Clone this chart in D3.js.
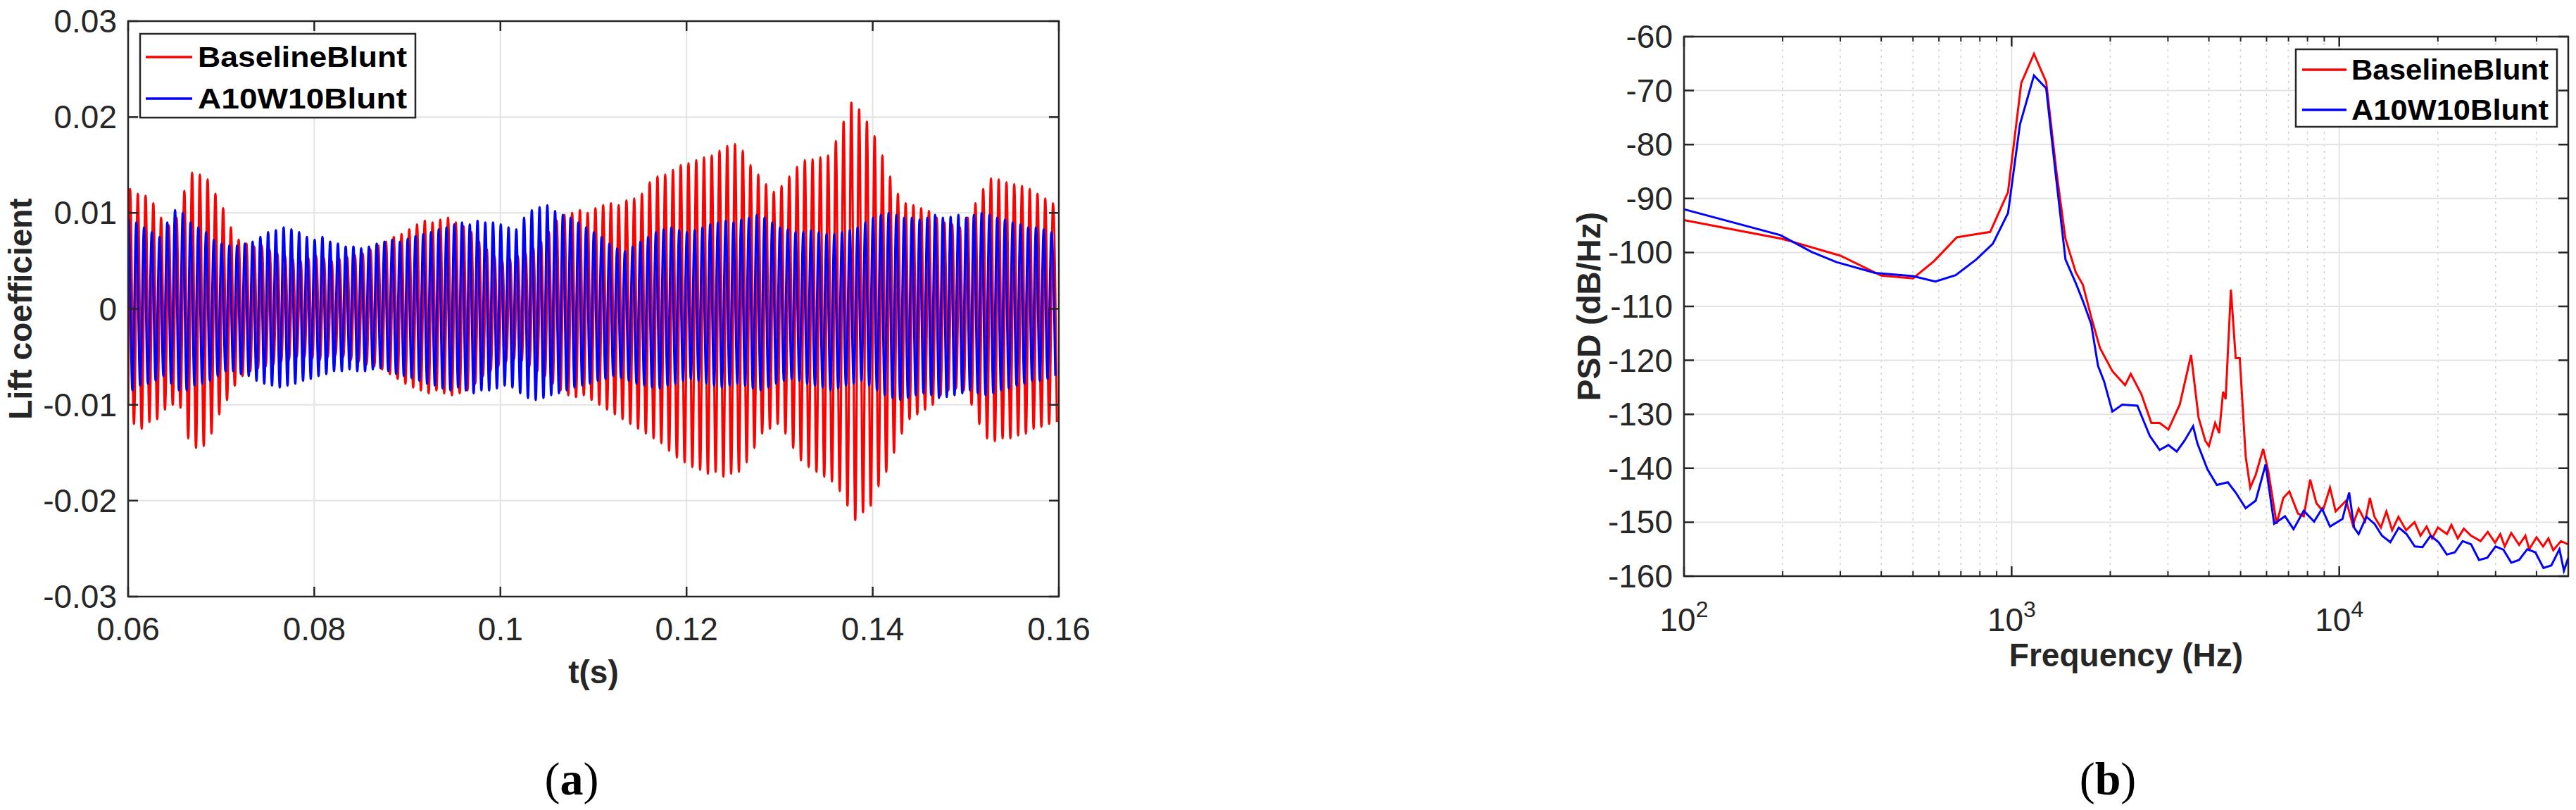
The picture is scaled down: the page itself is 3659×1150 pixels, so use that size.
<!DOCTYPE html>
<html><head><meta charset="utf-8">
<script src="https://cdn.jsdelivr.net/npm/d3@7"></script>
<style>body{margin:0;background:#fff}svg{display:block}</style>
</head><body>
<svg id="c" width="3659" height="1150"></svg>
<script>
// ---------- DATA ----------
const seriesNames = ["BaselineBlunt", "A10W10Blunt"];
const seriesColors = ["#ff0000", "#0000ff"];
const tStart = 0.06, tEnd = 0.16;
// per-cycle peaks (x1e-3), 120 cycles over 0.06..0.16 s
const redUpper = [12.5,12.0,11.8,11.0,9.5,8.7, 9.5,12.3,14.2,14.0,13.5,12.0, 10.5,8.5,7.2,6.8,6.5,6.6, 6.2,5.8,5.5,5.2,5.0,5.3, 5.5,5.3,5.0,5.2,5.4,5.6, 5.8,6.2,6.6,7.0,7.5,7.8, 8.3,8.8,9.2,9.0,9.3,9.5, 9.0,8.6,8.0,7.0,6.2,5.5, 5.0,5.2,5.5,5.8,6.3,7.0, 8.0,9.2,9.8,10.0,10.3,10.0, 10.5,10.8,11.0,10.8,11.3,11.5, 12.0,13.2,13.8,14.0,14.5,15.0, 15.2,15.5,15.8,16.0,16.5,17.0, 17.2,16.5,15.0,14.0,13.0,12.2, 12.8,13.8,14.8,15.5,15.6,15.8, 16.0,17.5,19.5,21.5,20.8,19.5, 18.0,16.0,13.8,12.0,11.0,10.8, 10.5,10.2,9.5,9.0,8.8,8.5, 9.5,11.0,12.5,13.6,13.5,13.2, 13.0,12.8,12.5,12.0,11.5,11.0];
const redLower = [-12.0,-12.5,-11.8,-11.5,-10.5,-10.0, -10.3,-13.5,-14.5,-14.3,-13.0,-11.0, -9.5,-8.0,-7.0,-6.5,-6.2,-6.0, -5.8,-5.5,-5.3,-5.0,-5.0,-5.2, -5.3,-5.0,-4.8,-5.0,-5.3,-5.5, -5.8,-6.0,-6.3,-6.8,-7.3,-7.8, -8.2,-8.5,-8.8,-8.5,-8.8,-9.0, -8.8,-8.5,-7.8,-7.0,-6.5,-6.0, -5.5,-5.3,-5.5,-6.0,-6.5,-7.0, -7.8,-8.5,-9.0,-9.2,-9.0,-9.5, -10.0,-10.5,-11.0,-11.5,-12.0,-12.5, -13.0,-13.5,-14.0,-14.8,-15.5,-16.0, -16.5,-16.8,-17.2,-17.0,-17.5,-17.2, -17.0,-16.0,-14.5,-13.0,-12.5,-12.0, -13.0,-14.5,-15.8,-16.5,-17.0,-17.5, -18.0,-19.0,-20.5,-22.0,-21.2,-20.5, -18.5,-17.0,-15.0,-13.0,-11.5,-11.0, -10.5,-10.0,-9.0,-8.5,-8.3,-8.5, -10.0,-12.0,-13.5,-13.8,-13.5,-13.5, -13.2,-13.0,-12.5,-12.3,-12.0,-11.8];
const blueUpper = [9.3,9.0,8.5,8.0,7.5,9.0, 10.3,10.0,9.0,8.5,8.0,7.2, 6.8,6.6,6.6,6.8,7.0,7.5, 8.0,8.2,8.5,8.3,8.0,7.5, 7.2,7.5,7.0,6.8,6.5,6.5, 6.3,6.5,6.8,7.0,7.2,7.0, 7.3,7.6,7.8,8.0,8.3,8.5, 8.8,9.0,8.8,9.2,9.0,9.0, 8.8,8.5,8.3,9.5,10.3,10.6, 10.8,10.2,9.8,9.5,9.0,8.5, 8.0,7.5,6.8,6.3,6.0,6.5, 7.0,7.5,8.0,8.3,8.5,8.2, 8.0,8.2,8.5,8.8,9.0,9.2, 9.0,9.3,9.5,9.8,9.5,9.0, 8.5,8.3,8.0,8.0,8.2,8.0, 7.8,7.8,8.0,8.2,8.5,9.0, 9.5,9.8,10.0,9.8,9.5,9.5, 9.3,9.5,9.8,9.5,9.6,9.8, 9.5,9.8,10.0,9.8,9.5,9.3, 9.0,8.8,8.5,8.5,8.3,8.0];
const blueLower = [-8.5,-8.0,-7.8,-7.5,-7.0,-7.8, -8.5,-8.5,-8.0,-7.8,-7.5,-7.0, -6.5,-6.5,-6.8,-7.0,-7.5,-7.8, -8.0,-8.2,-8.0,-7.8,-7.5,-7.3, -7.0,-6.8,-6.5,-6.5,-6.3,-6.5, -6.5,-6.3,-6.2,-6.5,-6.8,-7.0, -7.2,-7.5,-7.8,-8.0,-8.3,-8.5, -8.2,-8.5,-8.8,-8.5,-8.5,-8.3, -8.0,-8.2,-8.8,-9.3,-9.5,-9.3, -9.0,-8.8,-8.5,-8.2,-8.0,-7.8, -7.5,-7.3,-7.0,-7.2,-7.5,-7.8, -8.0,-8.2,-8.3,-8.0,-7.8,-7.5, -7.3,-7.5,-7.8,-8.0,-8.2,-8.0, -7.8,-8.0,-8.3,-8.5,-8.2,-7.8, -7.5,-7.3,-7.5,-7.8,-8.0,-8.2, -8.5,-8.3,-8.0,-7.8,-7.5,-8.0, -8.5,-9.0,-9.3,-9.5,-9.3,-9.0, -8.8,-9.0,-9.3,-9.2,-9.0,-8.8, -8.5,-8.8,-9.0,-8.8,-8.5,-8.3, -8.0,-7.8,-7.5,-7.5,-7.3,-7.0];
const leftXTicks = [0.06,0.08,0.1,0.12,0.14,0.16];
const leftYTicks = [-0.03,-0.02,-0.01,0,0.01,0.02,0.03];

const psdFreq = {
 red: [100,200,300,400,500,580,680,860,975,1070,1170,1275,1370,1460,1570,1650,1750,1860,2030,2220,2310,2490,2670,2830,3010,3260,3530,3720,3900,4000,4180,4300,4420,4500,4670,4830,4970,5180,5350,5560,5860,6080,6440,6750,7040,7480,7790,8150,8520,8910,9370,9750,10500,11000,11460,12000,12400,12810,13400,13930,14500,15160,16000,16980,17700,18480,19200,20000,21320,22000,23000,24000,25250,27000,28400,29900,31000,32000,33500,35400,37000,38000,40000,41900,43500,45000,47500,50000],
 blue: [100,197,245,292,383,500,585,675,780,876,975,1060,1170,1275,1360,1460,1570,1650,1750,1835,1915,2030,2175,2420,2640,2830,3010,3190,3370,3580,3690,3960,4230,4570,4830,5180,5560,5960,6330,6830,7250,7790,8380,8860,9370,10230,10720,11100,11460,12100,12810,13500,14320,15200,16050,17000,17960,19000,20100,21300,22520,23800,25250,26700,28300,30000,31700,33500,35400,37500,39700,42000,44400,47000,48500,50000]
};
const psdRed = [-94.0,-97.5,-100.6,-104.3,-104.8,-101.6,-97.2,-96.2,-88.8,-68.6,-63.2,-68.4,-85.0,-97.5,-103.7,-106.0,-112.0,-117.7,-122.0,-124.6,-122.5,-126.3,-131.6,-131.6,-132.8,-128.2,-119.0,-130.6,-134.9,-135.9,-131.6,-133.5,-125.8,-127.2,-106.9,-119.6,-119.6,-137.8,-143.6,-141.2,-136.4,-140.7,-150.3,-145.5,-144.3,-148.4,-148.9,-142.1,-146.5,-147.9,-143.6,-148.0,-146.0,-150.5,-147.5,-149.8,-145.5,-149.0,-151.0,-148.0,-151.5,-149.0,-151.5,-150.0,-152.5,-150.8,-153.0,-151.0,-152.2,-150.5,-153.0,-151.2,-152.5,-153.5,-151.8,-153.8,-152.2,-154.5,-152.0,-154.2,-152.5,-155.0,-152.8,-154.5,-153.0,-155.2,-153.5,-154.1];
const psdBlue = [-92.0,-96.8,-99.9,-101.8,-103.8,-104.4,-105.4,-104.2,-101.3,-98.4,-92.7,-76.3,-67.2,-69.6,-85.0,-101.3,-105.7,-109.0,-113.3,-121.0,-123.9,-129.5,-128.2,-128.4,-134.0,-136.6,-135.7,-136.9,-134.9,-132.2,-135.4,-140.2,-143.1,-142.6,-144.5,-147.4,-146.0,-139.3,-150.3,-148.9,-151.3,-147.9,-149.9,-147.5,-150.8,-149.4,-144.5,-151.0,-152.2,-149.0,-150.3,-152.5,-153.7,-151.0,-152.2,-154.5,-154.6,-152.5,-153.7,-156.0,-155.6,-153.5,-154.1,-157.0,-156.6,-154.5,-155.1,-157.5,-157.0,-155.0,-155.6,-158.5,-158.0,-155.0,-159.0,-156.6];
const rightXTicks = [100,1000,10000];
const rightYTicks = [-160,-150,-140,-130,-120,-110,-100,-90,-80,-70,-60];

// ---------- DRAW ----------
const svg = d3.select("#c");
const FONT = "'Liberation Sans', Arial, sans-serif";
const grid = "#e3e3e3";

function frame(g, x, y, W, H){
  g.append("rect").attr("x",x.range()[0]).attr("y",y.range()[1]).attr("width",W).attr("height",H)
   .attr("fill","none").attr("stroke","#262626").attr("stroke-width",2.5);
}

// ===== Left chart =====
const L = {x0:182, x1:1504, y0:30, y1:847};
const xL = d3.scaleLinear().domain([tStart,tEnd]).range([L.x0,L.x1]);
const yL = d3.scaleLinear().domain([-0.03,0.03]).range([L.y1,L.y0]);
const gL = svg.append("g");
gL.append("g").selectAll("line").data(leftXTicks).join("line")
  .attr("x1",d=>xL(d)).attr("x2",d=>xL(d)).attr("y1",L.y0).attr("y2",L.y1).attr("stroke",grid).attr("stroke-width",2);
gL.append("g").selectAll("line").data(leftYTicks).join("line")
  .attr("y1",d=>yL(d)).attr("y2",d=>yL(d)).attr("x1",L.x0).attr("x2",L.x1).attr("stroke",grid).attr("stroke-width",2);

function osc(upper, lower, phase){
  const n = upper.length, P = (tEnd-tStart)/n, pts=[];
  for(let k=0;k<n;k++){
    pts.push([tStart+(k+phase)*P, upper[k]*1e-3]);
    pts.push([tStart+(k+phase+0.5)*P, lower[k]*1e-3]);
  }
  return pts.filter(p=>p[0]>=tStart-1e-9 && p[0]<=tEnd+P);
}
const lineL = d3.line().x(d=>xL(d[0])).y(d=>yL(d[1])).curve(d3.curveMonotoneX);
svg.append("clipPath").attr("id","clipL").append("rect")
  .attr("x",L.x0).attr("y",L.y0).attr("width",L.x1-L.x0).attr("height",L.y1-L.y0);
const redPts = [[tStart,-0.010]].concat(osc(redUpper, redLower, 0.25));
const bluePts = [[tStart,0.009]].concat(osc(blueUpper, blueLower, 0.05));
gL.append("path").attr("d",lineL(redPts)).attr("fill","none").attr("stroke",seriesColors[0]).attr("stroke-width",3.2).attr("clip-path","url(#clipL)");
gL.append("path").attr("d",lineL(bluePts)).attr("fill","none").attr("stroke",seriesColors[1]).attr("stroke-width",3.2).attr("clip-path","url(#clipL)");

const tk = 14;
gL.append("g").selectAll("path").data(leftXTicks).join("path")
  .attr("d",d=>`M${xL(d)},${L.y1}v${-tk}M${xL(d)},${L.y0}v${tk}`).attr("stroke","#262626").attr("stroke-width",2.5);
gL.append("g").selectAll("path").data(leftYTicks).join("path")
  .attr("d",d=>`M${L.x0},${yL(d)}h${tk}M${L.x1},${yL(d)}h${-tk}`).attr("stroke","#262626").attr("stroke-width",2.5);
frame(gL, xL, yL, L.x1-L.x0, L.y1-L.y0);
gL.append("g").selectAll("text").data(leftXTicks).join("text")
  .attr("x",d=>xL(d)).attr("y",L.y1+62).attr("text-anchor","middle").attr("font-family",FONT).attr("font-size",46).attr("fill","#262626")
  .text(d=>String(+d.toFixed(2)));
gL.append("g").selectAll("text").data(leftYTicks).join("text")
  .attr("x",L.x0-16).attr("y",d=>yL(d)+16).attr("text-anchor","end").attr("font-family",FONT).attr("font-size",46).attr("fill","#262626")
  .text(d=>String(+d.toFixed(2)));
gL.append("text").attr("x",(L.x0+L.x1)/2).attr("y",970).attr("text-anchor","middle").attr("font-family",FONT).attr("font-size",46).attr("font-weight","bold").attr("fill","#262626").text("t(s)");
gL.append("text").attr("transform",`translate(45,${(L.y0+L.y1)/2}) rotate(-90)`).attr("text-anchor","middle").attr("font-family",FONT).attr("font-size",46).attr("font-weight","bold").attr("fill","#262626").text("Lift coefficient");

function legend(g, bx, by, bw, bh, rows, lx0, lx1, tx){
  g.append("rect").attr("x",bx).attr("y",by).attr("width",bw).attr("height",bh).attr("fill","#fff").attr("stroke","#262626").attr("stroke-width",2.5);
  seriesNames.forEach((n,i)=>{
    g.append("line").attr("x1",lx0).attr("x2",lx1).attr("y1",rows[i]).attr("y2",rows[i]).attr("stroke",seriesColors[i]).attr("stroke-width",3.5);
    g.append("text").attr("x",tx).attr("y",rows[i]+14).attr("font-family",FONT).attr("font-size",40).attr("font-weight","bold").attr("fill","#000")
      .attr("textLength", bw-(tx-bx)-12).attr("lengthAdjust","spacingAndGlyphs").text(n);
  });
}
legend(gL, 199, 48, 391, 119, [81,140], 207, 273, 281);

svg.append("text").attr("x",812).attr("y",1128).attr("text-anchor","middle").attr("font-family","'Liberation Serif', serif").attr("font-size",66)
  .html('(<tspan font-weight="bold">a</tspan>)');

// ===== Right chart =====
const R = {x0:2392, x1:3648, y0:52, y1:818};
const xR = d3.scaleLog().domain([100,50000]).range([R.x0,R.x1]);
const yR = d3.scaleLinear().domain([-160,-60]).range([R.y1,R.y0]);
const gR = svg.append("g");
const minor = [];
for (let dec=100; dec<50000; dec*=10) for(let m=2;m<=9;m++){ if(dec*m<50000) minor.push(dec*m); }
gR.append("g").selectAll("line").data(minor).join("line")
  .attr("x1",d=>xR(d)).attr("x2",d=>xR(d)).attr("y1",R.y0).attr("y2",R.y1).attr("stroke","#cfcfcf").attr("stroke-width",1.5).attr("stroke-dasharray","3,6");
gR.append("g").selectAll("line").data(rightXTicks).join("line")
  .attr("x1",d=>xR(d)).attr("x2",d=>xR(d)).attr("y1",R.y0).attr("y2",R.y1).attr("stroke",grid).attr("stroke-width",2);
gR.append("g").selectAll("line").data(rightYTicks).join("line")
  .attr("y1",d=>yR(d)).attr("y2",d=>yR(d)).attr("x1",R.x0).attr("x2",R.x1).attr("stroke",grid).attr("stroke-width",2);
const lineR = d3.line().x(d=>xR(d[0])).y(d=>yR(d[1]));
gR.append("path").attr("d",lineR(psdFreq.red.map((f,i)=>[f,psdRed[i]]))).attr("fill","none").attr("stroke",seriesColors[0]).attr("stroke-width",3);
gR.append("path").attr("d",lineR(psdFreq.blue.map((f,i)=>[f,psdBlue[i]]))).attr("fill","none").attr("stroke",seriesColors[1]).attr("stroke-width",3);
gR.append("g").selectAll("path").data(rightXTicks).join("path")
  .attr("d",d=>`M${xR(d)},${R.y1}v${-tk}M${xR(d)},${R.y0}v${tk}`).attr("stroke","#262626").attr("stroke-width",2.5);
gR.append("g").selectAll("path").data(minor).join("path")
  .attr("d",d=>`M${xR(d)},${R.y1}v${-7}M${xR(d)},${R.y0}v${7}`).attr("stroke","#262626").attr("stroke-width",2);
gR.append("g").selectAll("path").data(rightYTicks).join("path")
  .attr("d",d=>`M${R.x0},${yR(d)}h${tk}M${R.x1},${yR(d)}h${-tk}`).attr("stroke","#262626").attr("stroke-width",2.5);
frame(gR, xR, yR, R.x1-R.x0, R.y1-R.y0);
gR.append("g").selectAll("text").data(rightXTicks).join("text")
  .attr("x",d=>xR(d)).attr("y",R.y1+78).attr("text-anchor","middle").attr("font-family",FONT).attr("font-size",46).attr("fill","#262626")
  .html(d=>`10<tspan font-size="32" dy="-20">${Math.round(Math.log10(d))}</tspan>`);
gR.append("g").selectAll("text").data(rightYTicks).join("text")
  .attr("x",R.x0-16).attr("y",d=>yR(d)+16).attr("text-anchor","end").attr("font-family",FONT).attr("font-size",46).attr("fill","#262626")
  .text(d=>d);
gR.append("text").attr("x",(R.x0+R.x1)/2).attr("y",946).attr("text-anchor","middle").attr("font-family",FONT).attr("font-size",46).attr("font-weight","bold").attr("fill","#262626").text("Frequency (Hz)");
gR.append("text").attr("transform",`translate(2273,${(R.y0+R.y1)/2}) rotate(-90)`).attr("text-anchor","middle").attr("font-family",FONT).attr("font-size",46).attr("font-weight","bold").attr("fill","#262626").text("PSD (dB/Hz)");
legend(gR, 3261, 70, 371, 110, [99,156], 3270, 3333, 3340);

svg.append("text").attr("x",2994).attr("y",1128).attr("text-anchor","middle").attr("font-family","'Liberation Serif', serif").attr("font-size",66)
  .html('(<tspan font-weight="bold">b</tspan>)');
</script>
</body></html>
